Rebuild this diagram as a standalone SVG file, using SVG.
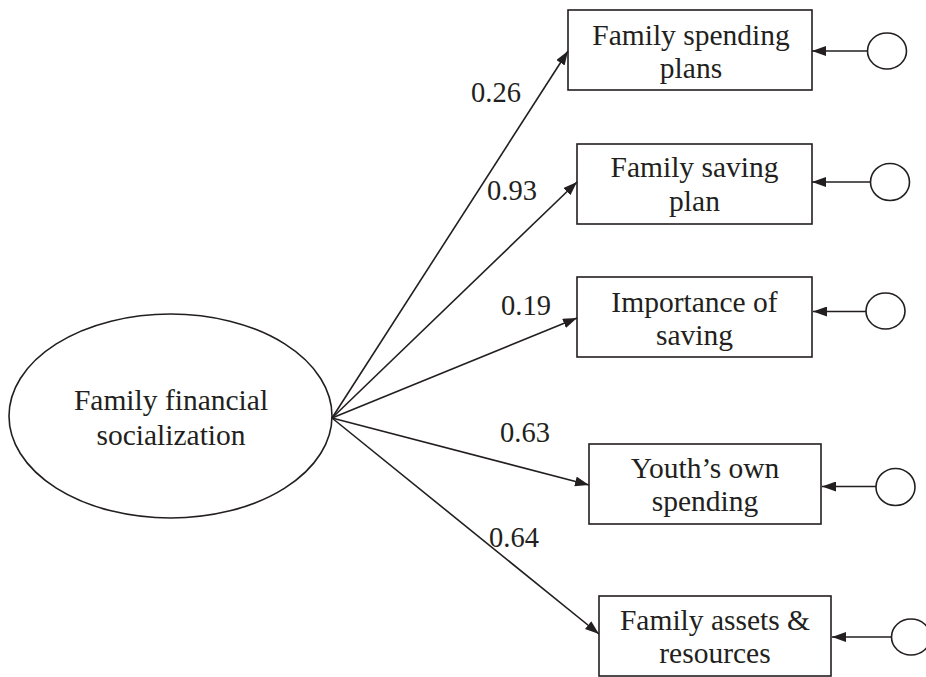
<svg xmlns="http://www.w3.org/2000/svg" width="926" height="677" viewBox="0 0 926 677">
<style>
.shape{fill:#fff;stroke:#231f20;stroke-width:1.6}
.t{font-family:"Liberation Serif","Times New Roman",serif;font-size:29.5px;fill:#231f20;text-anchor:middle}
.l{font-family:"Liberation Serif","Times New Roman",serif;font-size:28.5px;fill:#231f20}
.c{stroke:#231f20;stroke-width:1.6;fill:none;marker-end:url(#ah)}
</style>
<defs>
<marker id="ah" markerUnits="userSpaceOnUse" markerWidth="14" markerHeight="10" refX="14" refY="5" orient="auto">
<path d="M0,0 L14,5 L0,10 Z" fill="#231f20"/>
</marker>
</defs>
<rect width="926" height="677" fill="#fff"/>
<g id="latent">
<ellipse class="shape" cx="170.5" cy="416" rx="161.5" ry="102"/>
<text class="t" x="171" y="410">Family financial</text>
<text class="t" x="171" y="445">socialization</text>
</g>
<g id="n1">
<rect class="shape" x="568" y="10" width="244" height="80"/>
<text class="t" x="691" y="45">Family spending</text>
<text class="t" x="691" y="78">plans</text>
</g>
<g id="n2">
<rect class="shape" x="577" y="144" width="235" height="80"/>
<text class="t" x="694.5" y="177">Family saving</text>
<text class="t" x="694.5" y="211">plan</text>
</g>
<g id="n3">
<rect class="shape" x="577" y="277" width="235" height="80"/>
<text class="t" x="694.5" y="312">Importance of</text>
<text class="t" x="694.5" y="345">saving</text>
</g>
<g id="n4">
<rect class="shape" x="589" y="444" width="232" height="80"/>
<text class="t" x="705" y="478">Youth’s own</text>
<text class="t" x="705" y="511">spending</text>
</g>
<g id="n5">
<rect class="shape" x="599" y="596" width="232" height="80"/>
<text class="t" x="715" y="630">Family assets &amp;</text>
<text class="t" x="715" y="663">resources</text>
</g>
<g id="e1"><ellipse class="shape" cx="887" cy="51" rx="19.5" ry="18"/></g>
<g id="e2"><ellipse class="shape" cx="890" cy="182" rx="19.5" ry="18.5"/></g>
<g id="e3"><ellipse class="shape" cx="885.5" cy="311" rx="19.5" ry="18"/></g>
<g id="e4"><ellipse class="shape" cx="895.5" cy="487" rx="19.5" ry="18.5"/></g>
<g id="e5"><ellipse class="shape" cx="911" cy="637" rx="19.5" ry="18"/></g>
<g id="connectors">
<line class="c" x1="332" y1="418" x2="568" y2="51"/>
<line class="c" x1="332" y1="418" x2="577" y2="182"/>
<line class="c" x1="332" y1="418" x2="577" y2="318"/>
<line class="c" x1="332" y1="418" x2="589" y2="485"/>
<line class="c" x1="332" y1="418" x2="599" y2="634"/>
<line class="c" x1="867.5" y1="51" x2="812" y2="51"/>
<line class="c" x1="870.5" y1="182" x2="812" y2="182"/>
<line class="c" x1="866" y1="311.5" x2="813" y2="311.5"/>
<line class="c" x1="876" y1="486.5" x2="822" y2="486.5"/>
<line class="c" x1="891.5" y1="637" x2="832" y2="637"/>
</g>
<g id="labels">
<text class="l" x="471" y="102">0.26</text>
<text class="l" x="487" y="200">0.93</text>
<text class="l" x="501" y="315">0.19</text>
<text class="l" x="500" y="442">0.63</text>
<text class="l" x="489" y="547">0.64</text>
</g>
</svg>
